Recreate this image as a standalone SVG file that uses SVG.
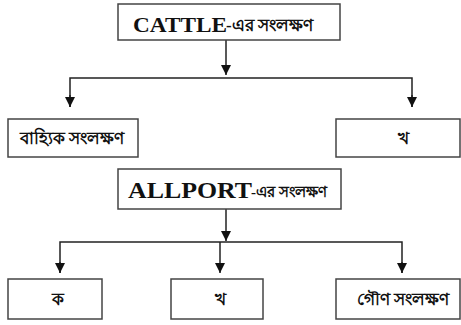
<svg xmlns="http://www.w3.org/2000/svg" width="461" height="325" viewBox="0 0 461 325">
<defs>
<style>
.box{fill:#fff;stroke:#444;stroke-width:1.5}
.ln{fill:none;stroke:#222;stroke-width:1.5}
.t{font-family:"Liberation Serif","Noto Sans",serif;fill:#111}
.m{text-anchor:middle}
.big{font-weight:bold}
.bn{font-size:16.5px;font-weight:600}
.bt{font-size:15px;font-weight:600}
</style>
<marker id="ah" viewBox="0 0 10 10" refX="10" refY="5" markerWidth="10" markerHeight="10" markerUnits="userSpaceOnUse" orient="auto">
<path d="M0,0 L10,5 L0,10 Z" fill="#111"/>
</marker>
</defs>
<rect width="461" height="325" fill="#fff"/>
<g id="connectors">
<path class="ln" d="M226,40 V75" marker-end="url(#ah)"/>
<path class="ln" d="M70,107 V78 H412 V107"/>
<path class="ln" d="M70,95 V107" marker-end="url(#ah)"/>
<path class="ln" d="M412,95 V107" marker-end="url(#ah)"/>
<path class="ln" d="M226,209 V241" marker-end="url(#ah)"/>
<path class="ln" d="M60,273 V242 H402 V273"/>
<path class="ln" d="M60,262 V273" marker-end="url(#ah)"/>
<path class="ln" d="M220,242 V273" marker-end="url(#ah)"/>
<path class="ln" d="M402,262 V273" marker-end="url(#ah)"/>
</g>
<g id="cattle">
<rect class="box" x="118" y="4" width="222" height="36"/>
<text class="t big" x="133" y="32" font-size="21" textLength="94" lengthAdjust="spacingAndGlyphs">CATTLE</text>
<text class="t bt" x="226" y="31" style="font-size:17px">-এর সংলক্ষণ</text>
</g>
<g id="bahyik">
<rect class="box" x="8" y="119" width="130" height="38"/>
<text class="t bn m" x="72" y="144">বাহ্যিক সংলক্ষণ</text>
</g>
<g id="kha1">
<rect class="box" x="336" y="119" width="124" height="38"/>
<text class="t bn m" x="403" y="144">খ</text>
</g>
<g id="allport">
<rect class="box" x="118" y="169" width="223" height="40"/>
<text class="t big" x="128" y="198" font-size="23" textLength="124" lengthAdjust="spacingAndGlyphs">ALLPORT</text>
<text class="t bt" x="251" y="197">-এর সংলক্ষণ</text>
</g>
<g id="ka">
<rect class="box" x="8" y="279" width="94" height="40"/>
<text class="t bn m" x="58" y="305">ক</text>
</g>
<g id="kha2">
<rect class="box" x="171" y="279" width="92" height="40"/>
<text class="t bn m" x="220" y="305">খ</text>
</g>
<g id="gaun">
<rect class="box" x="336" y="279" width="124" height="40"/>
<text class="t bn m" x="403" y="305">গৌণ সংলক্ষণ</text>
</g>
</svg>
